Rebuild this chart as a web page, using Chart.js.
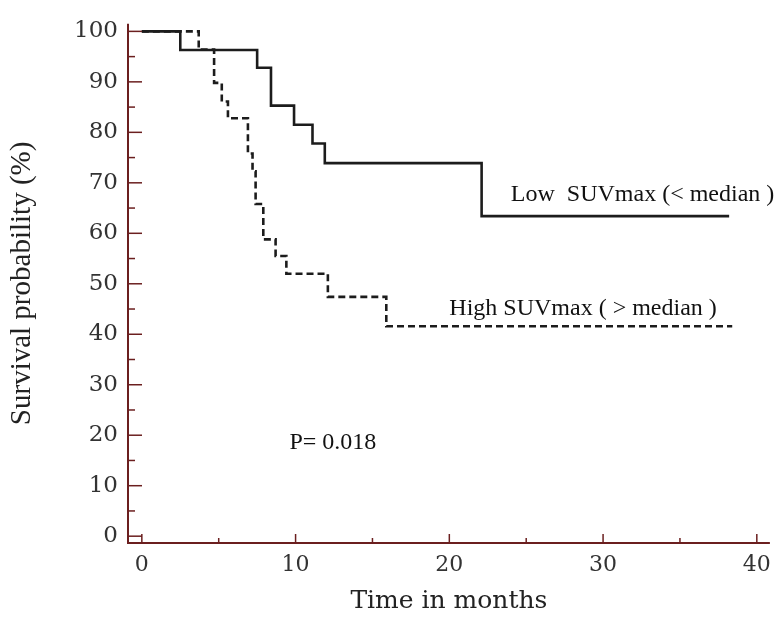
<!DOCTYPE html>
<html>
<head>
<meta charset="utf-8">
<script src="https://cdn.jsdelivr.net/npm/chart.js@4"></script>
<style>
  html, body { margin: 0; padding: 0; background: #fff; }
  canvas { display: block; }
</style>
</head>
<body>
<canvas id="km" width="780" height="618"></canvas>
<script>
(function(){
  'use strict';

  // Kaplan-Meier steps (months, survival %)
  const lowTimes  = [0, 2.5, 7.5, 8.4, 9.9, 11.1, 11.9, 22.1, 38.2];
  const lowSurv   = [100, 96.3, 92.8, 85.3, 81.5, 77.8, 73.9, 63.4, 63.4];
  const highTimes = [0, 3.7, 4.7, 5.2, 5.6, 6.9, 7.2, 7.4, 7.9, 8.7, 9.4, 12.1, 15.9, 38.4];
  const highSurv  = [100, 96.4, 89.8, 86.1, 82.8, 75.8, 72.3, 65.8, 58.8, 55.5, 52.0, 47.4, 41.6, 41.6];

  const xTicks = [0, 10, 20, 30, 40];
  const xMinor = [5, 15, 25, 35];
  const yTicks = [0, 10, 20, 30, 40, 50, 60, 70, 80, 90, 100];
  const yMinor = [5, 15, 25, 35, 45, 55, 65, 75, 85, 95];

  const lowLabel = 'Low  SUVmax (< median )';
  const highLabel = 'High SUVmax ( > median )';
  const pLabel = 'P= 0.018';

  const AXIS = '#6b1f1f';
  const INK = '#1c1c1c';
  const TICKTXT = '#333';

  const pts = (xs, ys) => xs.map((x, i) => ({ x, y: ys[i] }));

  // axes drawn by hand so the ticks can point inwards
  const axesPlugin = {
    id: 'kmAxes',
    afterDatasetsDraw(chart){
      const { ctx, chartArea: { left, right, top, bottom }, scales: { x, y } } = chart;
      ctx.save();
      ctx.strokeStyle = AXIS;
      ctx.lineWidth = 2;
      ctx.beginPath();
      ctx.moveTo(left, top); ctx.lineTo(left, bottom); ctx.lineTo(right, bottom);
      ctx.stroke();
      ctx.lineWidth = 1.5;
      const hTick = (v, len) => { const p = y.getPixelForValue(v); ctx.beginPath(); ctx.moveTo(left, p); ctx.lineTo(left + len, p); ctx.stroke(); };
      const vTick = (v, len) => { const p = x.getPixelForValue(v); ctx.beginPath(); ctx.moveTo(p, bottom); ctx.lineTo(p, bottom - len); ctx.stroke(); };
      yTicks.forEach(v => hTick(v, 14));
      yMinor.forEach(v => hTick(v, 7));
      xTicks.forEach(v => vTick(v, 9));
      xMinor.forEach(v => vTick(v, 5));

      // curve labels and p-value
      ctx.fillStyle = '#111';
      ctx.font = '24px "Liberation Serif", serif';
      ctx.textBaseline = 'alphabetic';
      ctx.fillText(lowLabel, x.getPixelForValue(24.0), y.getPixelForValue(66.4));
      ctx.fillText(highLabel, x.getPixelForValue(20.0), y.getPixelForValue(43.8));
      ctx.fillText(pLabel, x.getPixelForValue(9.6), y.getPixelForValue(17.2));
      ctx.restore();
    }
  };

  new Chart(document.getElementById('km'), {
    type: 'line',
    data: {
      datasets: [
        { label: 'Low SUVmax', data: pts(lowTimes, lowSurv), stepped: true,
          borderColor: INK, borderWidth: 2.6, pointRadius: 0, fill: false },
        { label: 'High SUVmax', data: pts(highTimes, highSurv), stepped: true,
          borderColor: INK, borderWidth: 2.6, borderDash: [7, 4], pointRadius: 0, fill: false }
      ]
    },
    options: {
      responsive: false,
      animation: false,
      layout: { padding: { top: 12, right: 9, left: 0, bottom: 0 } },
      plugins: { legend: { display: false }, tooltip: { enabled: false } },
      scales: {
        x: {
          type: 'linear', min: -0.9, max: 40.85,
          afterBuildTicks: s => { s.ticks = xTicks.map(v => ({ value: v })); },
          afterFit: s => { s.height = 75; },
          grid: { display: false, drawTicks: false },
          border: { display: false },
          ticks: { color: TICKTXT, padding: 9, maxRotation: 0,
                   font: { family: '"DejaVu Serif", serif', size: 22 } },
          title: { display: true, text: 'Time in months', color: '#222',
                   font: { family: '"DejaVu Serif", serif', size: 25 }, padding: { top: 0, bottom: 2 } }
        },
        y: {
          min: -1.35, max: 101.5,
          afterBuildTicks: s => { s.ticks = yTicks.map(v => ({ value: v })); },
          afterFit: s => { s.width = 128; },
          grid: { display: false, drawTicks: false },
          border: { display: false },
          ticks: { color: TICKTXT, padding: 10,
                   font: { family: '"DejaVu Serif", serif', size: 23 } },
          title: { display: true, text: 'Survival probability (%)', color: '#222',
                   font: { family: '"Liberation Serif", serif', size: 29 }, padding: { top: 5, bottom: 0 } }
        }
      }
    },
    plugins: [axesPlugin]
  });
})();
</script>
</body>
</html>
